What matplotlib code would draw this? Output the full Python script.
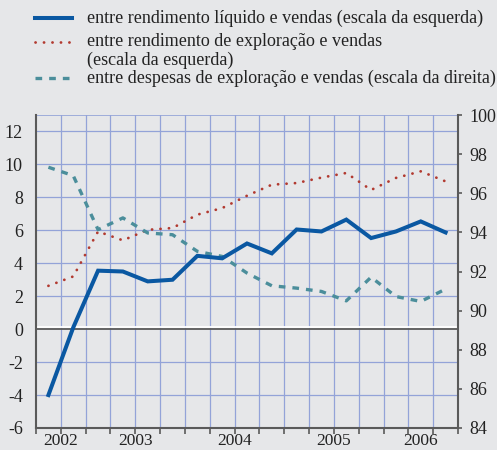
import matplotlib
matplotlib.use("Agg")
import matplotlib.pyplot as plt
import matplotlib.transforms as mtransforms
from matplotlib.lines import Line2D

# ---- data ----
quarters = ["2002T3", "2002T4",
            "2003T1", "2003T2", "2003T3", "2003T4",
            "2004T1", "2004T2", "2004T3", "2004T4",
            "2005T1", "2005T2", "2005T3", "2005T4",
            "2006T1", "2006T2", "2006T3"]
liquido = [-4.0, 0.1, 3.55, 3.5, 2.9, 3.0, 4.45, 4.3, 5.2, 4.6,
           6.05, 5.93, 6.65, 5.53, 5.93, 6.54, 5.87]
exploracao = [2.63, 3.2, 5.93, 5.39, 6.03, 6.14, 6.95, 7.35, 8.1, 8.77,
              8.87, 9.2, 9.48, 8.45, 9.18, 9.58, 8.97]
despesas = [97.33, 96.9, 94.14, 94.74, 93.97, 93.88, 93.03, 92.77, 91.92, 91.27,
            91.15, 90.98, 90.5, 91.71, 90.72, 90.47, 91.1]
years = ["2002", "2003", "2004", "2005", "2006"]
quarters_per_year = [2, 4, 4, 4, 3]
left_ticks = [-6, -4, -2, 0, 2, 4, 6, 8, 10, 12]
right_ticks = [84, 86, 88, 90, 92, 94, 96, 98, 100]
labels = ["entre rendimento líquido e vendas (escala da esquerda)",
          "entre rendimento de exploração e vendas",
          "(escala da esquerda)",
          "entre despesas de exploração e vendas (escala da direita)"]

BG = "#e6e7e9"
GRID = "#93a3d8"
BLUE = "#0a58a2"
RED = "#b23a30"
TEAL = "#4b8e9b"
SPINE = "#5a5a5a"
TXT = "#222222"

plt.rcParams["font.family"] = ["Liberation Serif", "DejaVu Serif"]
fig = plt.figure(figsize=(4.97, 4.5), dpi=100, facecolor=BG)
ax = fig.add_axes([36/497, 22/450, (458-36)/497, (428-115)/450])
ax.set_facecolor(BG)
n = len(quarters)
x = list(range(n))
ax.set_xlim(-0.5, n - 0.5)
ax.set_ylim(-6, 13)

# grid
for k in range(1, n):
    ax.axvline(k - 0.5, color=GRID, lw=0.9, zorder=1)
for v in left_ticks:
    if v not in (0, -6):
        ax.axhline(v, color=GRID, lw=0.9, zorder=1)
ax.axhline(13, color=GRID, lw=1.2, zorder=1)

# zero line (white highlight above dark line)
up = mtransforms.offset_copy(ax.transData, fig=fig, x=0, y=1.3, units="points")
ax.plot([-0.5, n - 0.5], [0, 0], color="white", lw=1.3, transform=up, zorder=2)
ax.axhline(0, color=SPINE, lw=1.3, zorder=2)

ax2 = ax.twinx()
ax2.set_ylim(84, 100)
ax.set_zorder(2)
ax2.set_zorder(1)
ax2.patch.set_visible(False)

# teal series belongs to right scale; map it to the left axis coordinates
y2_to_y1 = lambda d: (d - 84) * 19 / 16 - 6
ax.plot(x, exploracao, color=RED, lw=2.0, linestyle=(0, (0.05, 3.0)),
        dash_capstyle="round", zorder=4)
ax.plot(x, [y2_to_y1(d) for d in despesas], color=TEAL, lw=2.4,
        linestyle=(0, (2.0, 2.1)), zorder=4)
ax.plot(x, liquido, color=BLUE, lw=2.9, solid_joinstyle="miter", zorder=5)

for a in (ax, ax2):
    for s in a.spines.values():
        s.set_visible(False)
for side in ("left", "bottom", "right"):
    ax.spines[side].set_visible(True)
    ax.spines[side].set_color(SPINE)
    ax.spines[side].set_linewidth(1.5)

ax.set_yticks(left_ticks)
ax.set_yticklabels([str(v) for v in left_ticks])
ax.tick_params(axis="y", left=False, right=False, labelsize=13, pad=6, colors=TXT)

ax2.set_yticks(right_ticks)
ax2.set_yticklabels([str(v) for v in right_ticks])
ax2.tick_params(axis="y", right=True, direction="out", length=3, width=1.2,
                color=SPINE, labelsize=13, pad=5, labelcolor=TXT)

# x ticks: quarter boundaries
bounds = [k - 0.5 for k in range(n + 1)]
ax.set_xticks(bounds)
ax.set_xticklabels([""] * len(bounds))
ax.tick_params(axis="x", direction="out", length=4, width=1.2, color=SPINE)
# year labels
start = 0
for yname, cnt in zip(years, quarters_per_year):
    center = start + cnt / 2 - 0.5
    ax.text(center, 1/450, yname, ha="center", va="bottom", fontsize=12.5, color=TXT,
            transform=mtransforms.blended_transform_factory(ax.transData, fig.transFigure))
    start += cnt

# legend
styles = [dict(color=BLUE, lw=2.9),
          dict(color=RED, lw=2.0, linestyle=(0, (0.05, 3.0)), dash_capstyle="round"),
          None,
          dict(color=TEAL, lw=2.4, linestyle=(0, (2.0, 2.1)))]
ys = [18, 42, 60, 78]
for lab, y, st in zip(labels, ys, styles):
    yf = 1 - y / 450
    if st is not None:
        fig.add_artist(Line2D([35/497, 72/497], [yf, yf], transform=fig.transFigure, **st))
    fig.text(87/497, yf, lab, ha="left", va="center", fontsize=13, color=TXT)

fig.savefig("out.png", dpi=100, facecolor=BG)
